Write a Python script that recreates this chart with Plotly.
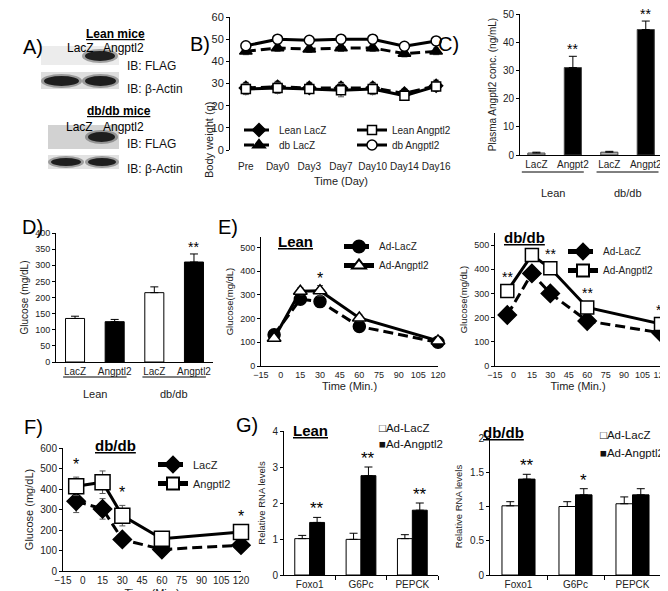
import plotly.graph_objects as go

W, H = 668, 591
FONT = "Liberation Sans, Arial, sans-serif"

# ---------------- data ----------------
# B) body weight
b_days = ['Pre', 'Day0', 'Day3', 'Day7', 'Day10', 'Day14', 'Day16']
b_lean_lacz = [28, 28.5, 28, 28, 28, 25.5, 29]
b_lean_lacz_err = [2.5, 2.5, 2.5, 2.5, 2.5, 2, 2.5]
b_lean_ang = [27.5, 28, 27.5, 27, 27.5, 24.5, 28.7]
b_lean_ang_err = [2.5, 2.5, 2, 3, 2.5, 2, 2]
b_db_lacz = [44.5, 46, 45.5, 46, 46, 43.5, 44.5]
b_db_lacz_err = [1.5, 1.5, 1.5, 1.5, 1.5, 1.5, 1.5]
b_db_ang = [47, 50, 49.5, 50, 50, 46.8, 49.2]
b_db_ang_err = [1.5, 1.5, 1.5, 2, 2, 1.5, 1.5]

# C) plasma Angptl2
c_labels = ['LacZ', 'Angpt2', 'LacZ', 'Angpt2']
c_vals = [0.7, 31, 1.0, 44.5]
c_err = [0.3, 4, 0.3, 3]
c_sig = ['', '**', '', '**']

# D) fasting glucose
d_labels = ['LacZ', 'Angptl2', 'LacZ', 'Angptl2']
d_vals = [135, 125, 215, 310]
d_err = [7, 7, 18, 25]
d_sig = ['', '', '', '**']

groups = ['Lean', 'db/db']

# E) GTT
e_time = [-5, 15, 30, 60, 120]
e_lean_lacz = [132, 282, 272, 167, 100]
e_lean_lacz_err = [10, 15, 15, 10, 8]
e_lean_ang = [117, 316, 318, 203, 106]
e_lean_ang_err = [10, 15, 22, 15, 8]
e_lean_sig = ['', '', '*', '', '']
e_db_lacz = [211, 383, 300, 186, 137]
e_db_lacz_err = [10, 25, 25, 10, 10]
e_db_ang = [310, 459, 404, 242, 174]
e_db_ang_err = [10, 15, 10, 10, 10]
e_db_sig = ['**', '', '**', '**', '**']

# F) db/db glucose
f_time = [-5, 15, 30, 60, 120]
f_lacz = [340, 303, 154, 105, 126]
f_lacz_err = [55, 50, 20, 10, 10]
f_ang = [413, 433, 270, 157, 190]
f_ang_err = [45, 55, 50, 10, 15]
f_sig = ['*', '', '*', '', '*']

# G) gene expression
genes = ['Foxo1', 'G6Pc', 'PEPCK']
g_series = ['Ad-LacZ', 'Ad-Angptl2']
g_lean_lacz = [1.01, 0.99, 1.01]
g_lean_lacz_err = [0.09, 0.17, 0.11]
g_lean_ang = [1.46, 2.76, 1.8]
g_lean_ang_err = [0.14, 0.24, 0.2]
g_lean_sig = ['**', '**', '**']
g_db_lacz = [1.01, 1.0, 1.04]
g_db_lacz_err = [0.06, 0.07, 0.1]
g_db_ang = [1.4, 1.17, 1.17]
g_db_ang_err = [0.07, 0.09, 0.09]
g_db_sig = ['**', '*', '']


def dx(a, b):
    return [a / W, b / W]


def dy(top, bottom):
    return [1 - bottom / H, 1 - top / H]


def px(x):
    return x / W


def py(y):
    return 1 - y / H


fig = go.Figure()

blk = 'black'
err_line = dict(type='data', color='#555', thickness=1, width=3)


def line_trace(x, y, err, name, ax, dash, symbol, size, fill, legend, lw=3):
    return go.Scatter(
        x=x, y=y, name=name, mode='lines+markers', xaxis='x' + ax, yaxis='y' + ax,
        line=dict(color=blk, width=lw, dash=dash),
        marker=dict(symbol=symbol, size=size, color=fill, line=dict(color=blk, width=1.5)),
        error_y=dict(err_line, array=err), legend=legend, cliponaxis=False)


DASH = '10px,5px'

# B
ix = list(range(len(b_days)))
fig.add_trace(line_trace(ix, b_lean_lacz, b_lean_lacz_err, 'Lean LacZ', '', DASH, 'diamond', 10, blk, 'legend'))
fig.add_trace(line_trace(ix, b_db_lacz, b_db_lacz_err, 'db LacZ', '', DASH, 'triangle-up', 11, blk, 'legend2'))
fig.add_trace(line_trace(ix, b_lean_ang, b_lean_ang_err, 'Lean Angptl2', '', 'solid', 'square', 9, 'white', 'legend'))
fig.add_trace(line_trace(ix, b_db_ang, b_db_ang_err, 'db Angptl2', '', 'solid', 'circle', 10, 'white', 'legend2'))
for t in fig.data:
    t.legendrank = {'Lean LacZ': 1, 'Lean Angptl2': 2, 'db LacZ': 3, 'db Angptl2': 4}[t.name]

bar_err = dict(type='data', symmetric=False, color=blk, thickness=1, width=4)

# C
fig.add_trace(go.Bar(x=list(range(4)), y=c_vals, width=0.47, xaxis='x2', yaxis='y2',
                     marker=dict(color=['#b0b0b0', blk, '#b0b0b0', blk], line=dict(color='#444', width=1)),
                     error_y=dict(bar_err, array=c_err, arrayminus=[0] * 4), showlegend=False))
# D
fig.add_trace(go.Bar(x=list(range(4)), y=d_vals, width=0.48, xaxis='x3', yaxis='y3',
                     marker=dict(color=['white', blk, 'white', blk], line=dict(color=blk, width=1)),
                     error_y=dict(bar_err, array=d_err, arrayminus=[0] * 4), showlegend=False))

# E lean
fig.add_trace(line_trace(e_time, e_lean_lacz, e_lean_lacz_err, 'Ad-LacZ', '4', DASH, 'circle', 12, blk, 'legend3'))
fig.add_trace(line_trace(e_time, e_lean_ang, e_lean_ang_err, 'Ad-Angptl2', '4', 'solid', 'triangle-up', 12, 'white', 'legend3'))
# E db
fig.add_trace(line_trace(e_time, e_db_lacz, e_db_lacz_err, 'Ad-LacZ', '5', DASH, 'diamond', 14, blk, 'legend4'))
fig.add_trace(line_trace(e_time, e_db_ang, e_db_ang_err, 'Ad-Angptl2', '5', 'solid', 'square', 13, 'white', 'legend4'))
# F
fig.add_trace(line_trace(f_time, f_lacz, f_lacz_err, 'LacZ', '6', DASH, 'diamond', 14, blk, 'legend5'))
fig.add_trace(line_trace(f_time, f_ang, f_ang_err, 'Angptl2', '6', 'solid', 'square', 15, 'white', 'legend5'))

# G
gx = list(range(len(genes)))
for ax, lacz, lerr, ang, aerr in [('7', g_lean_lacz, g_lean_lacz_err, g_lean_ang, g_lean_ang_err),
                                  ('8', g_db_lacz, g_db_lacz_err, g_db_ang, g_db_ang_err)]:
    fig.add_trace(go.Bar(x=gx, y=lacz, name=g_series[0], width=0.29, offset=-0.29, xaxis='x' + ax, yaxis='y' + ax,
                         marker=dict(color='white', line=dict(color=blk, width=1)),
                         error_y=dict(bar_err, array=lerr, arrayminus=[0] * 3), showlegend=False))
    fig.add_trace(go.Bar(x=gx, y=ang, name=g_series[1], width=0.29, offset=0, xaxis='x' + ax, yaxis='y' + ax,
                         marker=dict(color=blk, line=dict(color=blk, width=1)),
                         error_y=dict(bar_err, array=aerr, arrayminus=[0] * 3), showlegend=False))

# ---------------- axes ----------------
tf = dict(family=FONT, size=10, color='#222')


def yax(dom, rng, dtick, title, tsize, standoff, fs=10):
    return dict(domain=dom, range=rng, dtick=dtick, tick0=0, showline=True, linecolor=blk, linewidth=1,
                ticks='outside', ticklen=3, tickcolor=blk, showgrid=False, zeroline=False,
                tickfont=dict(tf, size=fs), title=dict(text=title, font=dict(family=FONT, size=tsize, color='#222'),
                                                       standoff=standoff))


def xax(dom, rng, **kw):
    d = dict(domain=dom, range=rng, showline=True, linecolor=blk, linewidth=1, ticks='', showgrid=False,
             zeroline=False, tickfont=tf, tickangle=0, ticklabeloverflow='allow')
    d.update(kw)
    return d


def ttl(text, size=11, standoff=3):
    return dict(text=text, font=dict(family=FONT, size=size, color='#222'), standoff=standoff)


lay = {}
# B
lay['xaxis'] = xax(dx(222, 444), [-0.5, 6.5], showline=False, tickvals=ix, ticktext=b_days, ticklabelstandoff=9,
                   anchor='y', title=ttl('Time (Day)', 11, 6))
lay['yaxis'] = yax(dy(9, 142), [0, 60], 10, '', 11, 3, fs=11)
# C
lay['xaxis2'] = xax(dx(512, 656), [-0.45, 3.5], tickvals=list(range(4)), ticktext=c_labels, anchor='y2')
lay['yaxis2'] = yax(dy(6, 147), [0, 50], 10, 'Plasma Angptl2 conc. (ng/mL)', 10, 4, fs=10)
# D
lay['xaxis3'] = xax(dx(48, 205), [-0.48, 3.48], tickvals=list(range(4)), ticktext=d_labels, anchor='y3')
lay['yaxis3'] = yax(dy(225, 354), [0, 400], 50, 'Glucose (mg/dL)', 10, 4, fs=9)
# E lean
lay['xaxis4'] = xax(dx(253, 430), [-15, 120], tickvals=list(range(-15, 121, 15)), tickfont=dict(tf, size=9),
                    anchor='y4', title=ttl('Time (Min.)', 11, 3))
lay['yaxis4'] = yax(dy(229, 358), [0, 545], 100, 'Glucose(mg/dL)', 9.5, 4, fs=9)
# E db
lay['xaxis5'] = xax(dx(487, 653), [-15, 120], tickvals=list(range(-15, 121, 15)), tickfont=dict(tf, size=9),
                    anchor='y5', title=ttl('Time (Min.)', 11, 3))
lay['yaxis5'] = yax(dy(225, 358), [0, 550], 100, 'Glucose(mg/dL)', 9.5, 4, fs=9)
# F
lay['xaxis6'] = xax(dx(55, 233), [-15, 120], tickvals=list(range(-15, 121, 15)), tickfont=dict(tf, size=10),
                    anchor='y6', title=ttl('Time (Min.)', 11, 4))
lay['yaxis6'] = yax(dy(440, 563), [0, 600], 100, 'Glucose (mg/dL)', 11, 4, fs=10)
# G lean
lay['xaxis7'] = xax(dx(276, 430), [-0.5, 2.5], tickvals=gx, ticktext=genes, anchor='y7',
                    minor=dict(tickvals=[0.5, 1.5, 2.5], ticks='outside', ticklen=4, tickcolor=blk))
lay['yaxis7'] = yax(dy(423, 567), [0, 4], 1, 'Relative RNA levels', 9.5, 5, fs=10)
# G db
lay['xaxis8'] = xax(dx(482, 653), [-0.5, 2.5], tickvals=gx, ticktext=genes, anchor='y8',
                    minor=dict(tickvals=[0.5, 1.5, 2.5], ticks='outside', ticklen=4, tickcolor=blk))
lay['yaxis8'] = yax(dy(430, 567), [0, 2], 0.5, 'Relative RNA levels', 9.5, 5, fs=10)

for i in ['', '2', '3', '4', '5', '6', '7', '8']:
    lay['yaxis' + i]['anchor'] = 'x' + i

fig.update_layout(**lay)

# ---------------- legends ----------------
leg_base = dict(bgcolor='rgba(0,0,0,0)', borderwidth=0, font=dict(family=FONT, size=10, color='#222'),
                xanchor='left', yanchor='middle', itemclick=False, tracegroupgap=0, itemsizing='constant')
fig.update_layout(
    legend=dict(leg_base, x=px(231), y=py(122), orientation='h', entrywidth=68, itemsizing='trace'),
    legend2=dict(leg_base, x=px(231), y=py(137), orientation='h', entrywidth=68, itemsizing='trace'),
    legend3=dict(leg_base, x=px(331), y=py(248)),
    legend4=dict(leg_base, x=px(555), y=py(253)),
    legend5=dict(leg_base, x=px(145), y=py(466), font=dict(family=FONT, size=11, color='#222')),
    barmode='overlay',
)

ann = []
shapes = []


def star_list(xs, ys, errs, sigs, ax, size=14, dyoff=-3):
    for x, y, e, s in zip(xs, ys, errs, sigs):
        if s:
            ann.append(dict(x=x, y=y + e, xref='x' + ax, yref='y' + ax, text=s, showarrow=False,
                            yanchor='bottom', yshift=dyoff, font=dict(family=FONT, size=size, color=blk)))


star_list(list(range(4)), c_vals, c_err, c_sig, '2')
star_list(list(range(4)), d_vals, d_err, d_sig, '3')
star_list(e_time, e_lean_ang, e_lean_ang_err, e_lean_sig, '4', size=16)
star_list(e_time, e_db_ang, e_db_ang_err, e_db_sig, '5', dyoff=2)
star_list(f_time, f_ang, f_ang_err, f_sig, '6', size=16, dyoff=2)
star_list([g + 0.145 for g in gx], g_lean_ang, g_lean_ang_err, g_lean_sig, '7', size=17)
star_list([g + 0.145 for g in gx], g_db_ang, g_db_ang_err, g_db_sig, '8', size=17)

# G legends (small squares right next to the text, as in the original)
for (x, y0), (ax) in [((369, 428), '7'), ((590, 435), '8')]:
    for k, (sym, name) in enumerate(zip(['□', '■'], g_series)):
        ann.append(dict(x=px(x), y=py(y0 + k * (16 if ax == '7' else 18)), xref='paper', yref='paper',
                        text=sym + name, showarrow=False, xanchor='left',
                        font=dict(family=FONT, size=11.5, color='#111')))

# B y-axis title
ann.append(dict(x=px(193), y=py(92), xref='paper', yref='paper', text='Body weight (g)', textangle=-90,
                showarrow=False, font=dict(family=FONT, size=11, color='#222')))

# panel letters
for t, x, y in [('A)', 13, 26), ('B)', 180, 23), ('C)', 453, 23), ('D)', 12, 219), ('E)', 208, 219),
                ('F)', 14, 432), ('G)', 239, 430)]:
    ann.append(dict(x=px(x), y=py(y), xref='paper', yref='paper', text=t, showarrow=False,
                    font=dict(family=FONT, size=20, color=blk)))

# panel titles
for t, x, y in [('Lean', 287, 233), ('db/db', 539, 229), ('db/db', 85, 448), ('Lean', 302, 433), ('db/db', 518, 435)]:
    ann.append(dict(x=px(x), y=py(y), xref='paper', yref='paper', text='<b><u>' + t + '</u></b>', showarrow=False,
                    font=dict(family=FONT, size=15, color=blk)))

# group labels under C and D
for ax, ylab, yline, x0s in [('2', 177, 164, [(-0.4, 1.3), (1.65, 3.35)]), ('3', 386, 369, [(-0.3, 1.3), (1.7, 3.3)])]:
    for g, (a, b) in zip(groups, x0s):
        ann.append(dict(x=(a + b) / 2, y=py(ylab), xref='x' + ax, yref='paper', text=g, showarrow=False,
                        font=dict(family=FONT, size=11, color='#222')))
        shapes.append(dict(type='line', xref='x' + ax, yref='paper', x0=a, x1=b, y0=py(yline), y1=py(yline),
                           line=dict(color=blk, width=1)))

# A) western blots
for t, x, y in [('<b><u>Lean mice</u></b>', 76, 17), ('LacZ', 57, 31), ('Angptl2', 93, 31),
                ('<b><u>db/db mice</u></b>', 77, 94), ('LacZ', 56, 110), ('Angptl2', 93, 110)]:
    ann.append(dict(x=px(x), y=py(y), xref='paper', yref='paper', text=t, showarrow=False,
                    font=dict(family=FONT, size=12, color=blk)))
for t, y in [('IB: FLAG', 49), ('IB: β-Actin', 72), ('IB: FLAG', 127), ('IB: β-Actin', 152)]:
    ann.append(dict(x=px(117), y=py(y), xref='paper', yref='paper', text=t, showarrow=False, xanchor='left',
                    font=dict(family=FONT, size=12, color='#111')))


def prect(x0, y0, x1, y1, col, kind='rect', op=1.0):
    shapes.append(dict(type=kind, xref='paper', yref='paper', x0=px(x0), x1=px(x1), y0=py(y1), y1=py(y0),
                       fillcolor=col, line=dict(width=0), opacity=op, layer='below'))


prect(33, 38, 111, 57, '#ececec')
prect(33, 64, 111, 81, '#dedede')
prect(40, 117, 111, 141, '#d2d2d2')
prect(40, 147, 111, 161, '#e2e2e2')
for (x0, y0, x1, y1) in [(74, 41, 110, 55), (33, 66, 74, 80), (74, 66, 111, 80), (77, 122, 110, 136),
                         (40, 148, 76, 160), (77, 148, 111, 160)]:
    prect(x0, y0, x1, y1, '#555', 'circle', 0.5)
    prect(x0 + 3, y0 + 2, x1 - 3, y1 - 2, '#111', 'circle', 0.9)

fig.update_layout(
    width=W, height=H, margin=dict(l=0, r=0, t=0, b=0, autoexpand=False),
    paper_bgcolor='white', plot_bgcolor='white',
    font=dict(family=FONT, color='#222'),
    annotations=ann, shapes=shapes,
)

fig.write_html("out.html")
